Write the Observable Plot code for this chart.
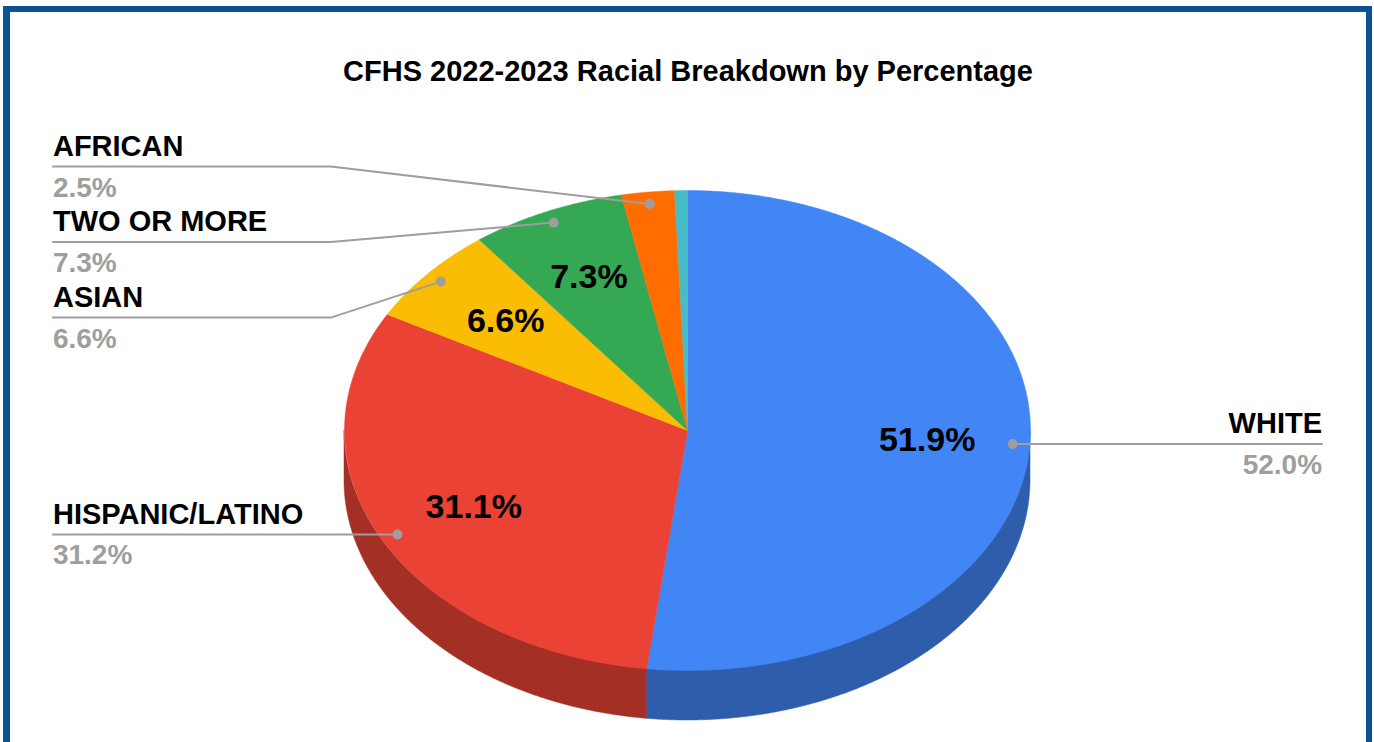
<!DOCTYPE html>
<html>
<head>
<meta charset="utf-8">
<script src="https://cdn.jsdelivr.net/npm/d3@7"></script>
<script src="https://cdn.jsdelivr.net/npm/@observablehq/plot@0.6"></script>
<style>
  html, body { margin: 0; padding: 0; background: #ffffff; }
  #wrap { position: relative; width: 1374px; height: 742px; overflow: hidden; font-family: "Liberation Sans", Arial, sans-serif; }
  #frame { position: absolute; left: 3px; top: 6px; width: 1369px; height: 800px; box-sizing: border-box;
           border: 6px solid #0B5394; border-left-width: 7px; pointer-events: none; }
  #title { position: absolute; left: 0; top: 56px; width: 1376px; text-align: center; font-weight: bold;
           font-size: 29px; line-height: 30px; color: #000; }
  #chart { position: absolute; left: 0; top: 0; }
</style>
</head>
<body>
<div id="wrap">
  <div id="chart"></div>
  <div id="title">CFHS 2022-2023 Racial Breakdown by Percentage</div>
  <div id="frame"></div>
</div>
<script>
// ---- data ----
const names  = ["WHITE", "HISPANIC/LATINO", "ASIAN", "TWO OR MORE", "AFRICAN", "OTHER"];
const values = [52.0, 31.2, 6.6, 7.3, 2.5, 0.6];
const colors = ["#4285F4", "#EA4335", "#FBBC04", "#34A853", "#FF6D01", "#46BDC6"];

// ---- geometry (unit ellipse in data space) ----
const total = d3.sum(values);
let cum = 0;
const slices = names.map((name, i) => {
  const a = cum / total * 2 * Math.PI;
  cum += values[i];
  const b = cum / total * 2 * Math.PI;
  return {name, value: values[i], color: colors[i], side: d3.rgb(colors[i]).darker(1).formatHex(),
          a, b, mid: (a + b) / 2, pct: values[i] / total * 100};
});
const depth = 50 / 240;
function arc(a, b) {
  const n = Math.max(2, Math.ceil((b - a) / (Math.PI / 720)));
  return d3.range(n + 1).map(k => a + (b - a) * k / n);
}

const marks = [];
// side walls (front half only)
for (const s of slices) {
  const a = Math.max(s.a, Math.PI / 2), b = Math.min(s.b, 3 * Math.PI / 2);
  if (a < b) {
    const pts = arc(a, b).map(t => ({x: Math.sin(t), y1: Math.cos(t) - depth, y2: Math.cos(t)}));
    marks.push(Plot.areaY(pts, {x: "x", y1: "y1", y2: "y2", fill: s.side, stroke: s.side, strokeWidth: 0.5}));
  }
}
// top faces
for (const s of slices) {
  const pts = [{x: 0, y: 0}, ...arc(s.a, s.b).map(t => ({x: Math.sin(t), y: Math.cos(t)})), {x: 0, y: 0}];
  marks.push(Plot.line(pts, {x: "x", y: "y", fill: s.color, stroke: s.color, strokeWidth: 0.5, curve: "linear"}));
}

// ---- outside labels ----
const labels = slices.filter(s => s.value >= 1).map(s => ({
  name: s.name, valueText: s.value.toFixed(1) + "%",
  side: Math.sin(s.mid) >= 0 ? "right" : "left",
  ax: 0.95 * Math.sin(s.mid), ay: 0.95 * Math.cos(s.mid)
}));
const gap = 75.5 / 240, stackShift = 6 / 240;
function layout(items) {
  items.sort((p, q) => q.ay - p.ay);
  let clusters = [];
  for (const it of items) {
    clusters.push({items: [it], center: it.ay});
    while (clusters.length > 1) {
      const cur = clusters[clusters.length - 1], prev = clusters[clusters.length - 2];
      const prevBottom = prev.center - (prev.items.length - 1) / 2 * gap;
      const curTop = cur.center + (cur.items.length - 1) / 2 * gap;
      if (prevBottom - gap < curTop) {
        const merged = [...prev.items, ...cur.items];
        clusters.splice(-2, 2, {items: merged, center: d3.mean(merged, d => d.ay) - stackShift});
      } else break;
    }
  }
  for (const c of clusters) {
    const top = c.center + (c.items.length - 1) / 2 * gap;
    c.items.forEach((it, k) => { it.ly = top - k * gap; });
  }
}
const left = labels.filter(d => d.side === "left");
const right = labels.filter(d => d.side === "right");
layout(left); layout(right);
const colX = 1.85, elbowX = 1.04;
for (const d of left) { d.lx = -colX; d.ex = -elbowX; }
for (const d of right) { d.lx = colX; d.ex = elbowX; }
const connectors = labels.flatMap(d => [
  {name: d.name, x: d.lx, y: d.ly}, {name: d.name, x: d.ex, y: d.ly}, {name: d.name, x: d.ax, y: d.ay}
]);
marks.push(Plot.line(connectors, {x: "x", y: "y", z: "name", stroke: "#9e9e9e", strokeWidth: 2, curve: "linear"}));
marks.push(Plot.dot(labels, {x: "ax", y: "ay", r: 5, fill: "#9e9e9e"}));
for (const [group, anchor] of [[left, "start"], [right, "end"]]) {
  marks.push(Plot.text(group, {x: "lx", y: "ly", text: "name", dy: -20, textAnchor: anchor,
    fontSize: 29, fontWeight: "bold", fill: "#000000"}));
  marks.push(Plot.text(group, {x: "lx", y: "ly", text: "valueText", dy: 21, textAnchor: anchor,
    fontSize: 28, fontWeight: "bold", fill: "#9e9e9e"}));
}

// ---- inside labels ----
const inner = slices.filter(s => s.pct >= 5).map(s => ({
  x: 0.7 * Math.sin(s.mid), y: 0.7 * Math.cos(s.mid), text: s.pct.toFixed(1) + "%"
}));
marks.push(Plot.text(inner, {x: "x", y: "y", text: "text", fontSize: 34, fontWeight: "bold", fill: "#000000"}));

const plot = Plot.plot({
  width: 1374, height: 742,
  marginLeft: 344, marginRight: 344, marginTop: 190, marginBottom: 72,
  x: {domain: [-1, 1], axis: null},
  y: {domain: [-1, 1], axis: null},
  style: {background: "transparent", fontFamily: "'Liberation Sans', Arial, sans-serif", overflow: "visible"},
  marks
});
document.getElementById("chart").appendChild(plot);
</script>
</body>
</html>
